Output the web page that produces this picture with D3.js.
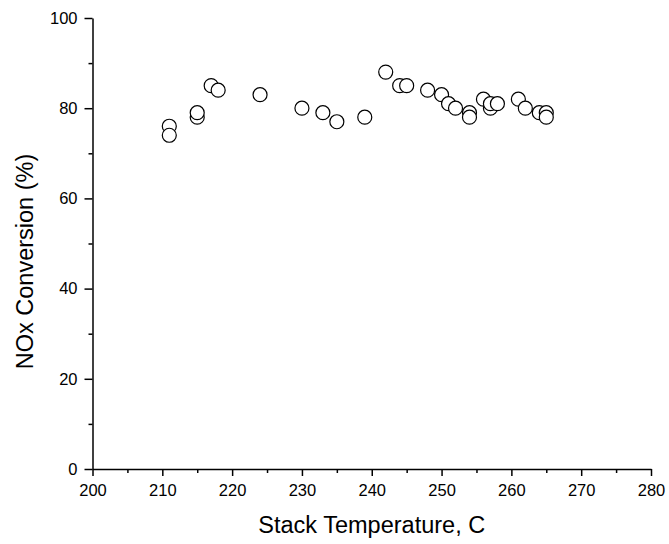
<!DOCTYPE html>
<html lang="en">
<head>
<meta charset="UTF-8">
<title>NOx Conversion</title>
<script src="https://d3js.org/d3.v7.min.js"></script>
<style>
  body { margin: 0; background: white; }
  svg text { font-family: "Liberation Sans", Arial, sans-serif; fill: #000; }
</style>
</head>
<body>
<div id="chart"></div>
<script>
    // stack temperature (C) and NOx conversion (%)
    const temps = [211, 211, 215, 215, 217, 218, 224, 230, 233, 235, 239,
                   242, 244, 245, 248, 250, 251, 252, 254, 254, 256, 257,
                   257, 258, 261, 262, 264, 265, 265];
    const conversions = [76, 74, 78, 79, 85, 84, 83, 80, 79, 77, 78,
                         88, 85, 85, 84, 83, 81, 80, 79, 78, 82, 80,
                         81, 81, 82, 80, 79, 79, 78];
    const xTicks = [200, 210, 220, 230, 240, 250, 260, 270, 280];
    const yTicks = [0, 20, 40, 60, 80, 100];

    var width = 669;
    var height = 544;

    const svg = d3.select("#chart").append("svg")
        .attr("width", width)
        .attr("height", height);

    const x = d3.scaleLinear().domain([200, 280]).range([92.5, 651]);
    const y = d3.scaleLinear().domain([0, 100]).range([469, 18]);

    // minor ticks first, then the labelled ones on top
    svg.append("g")
        .attr("transform", "translate(0," + y(0) + ")")
        .call(d3.axisBottom(x).tickValues(d3.range(205, 280, 10)).tickSize(4).tickFormat(""))
        .call(g => g.select(".domain").remove())
        .selectAll("line").attr("stroke-width", 1.5);

    svg.append("g")
        .attr("transform", "translate(" + x(200) + ",0)")
        .call(d3.axisLeft(y).tickValues(d3.range(10, 100, 20)).tickSize(4).tickFormat(""))
        .call(g => g.select(".domain").remove())
        .selectAll("line").attr("stroke-width", 1.5);

    const xAxis = svg.append("g")
        .attr("transform", "translate(0," + y(0) + ")")
        .call(d3.axisBottom(x).tickValues(xTicks).tickSize(7).tickSizeOuter(0).tickPadding(8));
    xAxis.select(".domain").attr("stroke-width", 1.5);
    xAxis.selectAll("line").attr("stroke-width", 1.5);
    xAxis.selectAll("text").attr("font-size", 16.5);

    const yAxis = svg.append("g")
        .attr("transform", "translate(" + x(200) + ",0)")
        .call(d3.axisLeft(y).tickValues(yTicks).tickSize(8).tickSizeOuter(0).tickPadding(7));
    yAxis.select(".domain").attr("stroke-width", 1.5);
    yAxis.selectAll("line").attr("stroke-width", 1.5);
    yAxis.selectAll("text").attr("font-size", 16.5);

    // axis titles
    svg.append("text")
        .attr("x", (x(200) + x(280)) / 2)
        .attr("y", 533)
        .attr("text-anchor", "middle")
        .attr("font-size", 23.5)
        .text("Stack Temperature, C");

    svg.append("text")
        .attr("transform", "translate(33,261.5) rotate(-90)")
        .attr("text-anchor", "middle")
        .attr("font-size", 23.5)
        .text("NOx Conversion (%)");

    // the points
    svg.append("g")
        .selectAll("circle")
        .data(d3.range(temps.length))
        .join("circle")
        .attr("cx", i => x(temps[i]))
        .attr("cy", i => y(conversions[i]))
        .attr("r", 7)
        .attr("fill", "white")
        .attr("stroke", "black")
        .attr("stroke-width", 1.2);
</script>
</body>
</html>
